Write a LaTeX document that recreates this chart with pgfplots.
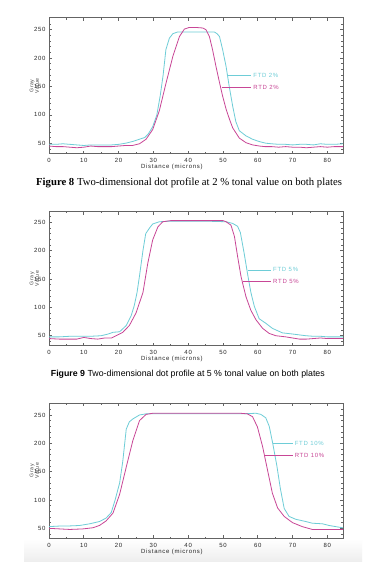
\documentclass[border=0pt]{standalone}
\usepackage{fontspec}
\setmainfont{Liberation Sans}
\newfontfamily\tickfont[LetterSpace=12]{Liberation Sans}
\newfontfamily\capserif{Liberation Serif}
\usepackage{pgfplots}
\pgfplotsset{compat=1.18}
\definecolor{ftd}{RGB}{110,205,215}
\definecolor{rtd}{RGB}{200,70,150}
\definecolor{axgray}{RGB}{100,100,100}
\tikzset{leg/.style={font=\fontsize{6}{7}\tickfont, anchor=west, inner sep=1pt}}
\pgfplotsset{
  dotstyle/.style={
    scale only axis, width=294pt,
    xmin=0, xmax=84.5,
    xtick={0,10,...,80}, ytick={50,100,...,250},
    minor xtick={5,15,...,85},
    minor ytick={40,60,70,80,90,110,120,130,140,160,170,180,190,210,220,230,240,260},
    tick align=inside, major tick length=3pt, minor tick length=1.6pt,
    axis line style={axgray, line width=1pt},
    every tick/.style={axgray, line width=0.6pt},
    tick label style={font=\fontsize{6}{7}\tickfont, text=black!85},
    /pgf/number format/assume math mode=true,
    xticklabel style={yshift=-1pt},
    xlabel={Distance (microns)},
    every axis x label/.style={at={(axis description cs:0.418,0)}, anchor=center, yshift=-13.3pt, font=\fontsize{6}{7}\tickfont, text=black!85},
    ylabel={Gray\\Value},
    every axis y label/.style={at={(axis description cs:-0.05,0.5)}, rotate=90, anchor=center, align=center, font=\fontsize{5.2}{5.4}\tickfont, text=black!75},
  }
}
\begin{document}
\begin{tikzpicture}
\path[fill=white, use as bounding box] (0,0) rectangle (366pt,581pt);
\shade[top color=white, bottom color=black!7] (24pt,19pt) rectangle (362pt,42pt);

% ---------- Figure 8 (2 %) ----------
\begin{axis}[dotstyle, at={(49pt,427pt)}, anchor=south west, height=136pt, ymin=31, ymax=270.6]
\addplot[ftd, line width=0.8pt] coordinates {
(0,48)(2,48)(4,49)(6,48)(8,47)(10,46)(12,47)(14,47)(16,47)(18,47)(20,48)(22,50)(24,53)(26,57)(27.5,60)(28.5,66)(29.8,79)(31,100)(32,135)(32.8,170)(33.6,215)(34.6,235)(35.6,243)(37,246)(40,246)(44,246)(47.5,246)(48.3,243)(49,238)(49.9,215)(50.9,185)(51.8,150)(52.8,115)(53.7,88)(54.7,72)(56.6,63)(58.5,57)(60.4,53)(62.3,50)(64,49)(66,48)(68,48)(70,47)(72,48)(74,48)(76,47)(78,49)(80,48)(82,48)(84.5,49)};
\addplot[rtd, line width=0.8pt] coordinates {
(0,45)(2,44)(4,44)(6,43)(8,42)(10,43)(12,45)(14,44)(16,44)(18,44)(20,45)(22,46)(24,46)(26,49)(27.9,57)(29.8,74)(31.7,107)(33.6,155)(35.6,203)(37.5,238)(38.9,251)(40.3,254)(42,254)(44.2,253)(45.1,250)(46.1,238)(47,215)(48,185)(49,157)(49.9,133)(50.9,110)(52,90)(52.8,77)(54.7,59)(56.6,51)(58.5,47)(60.5,45)(62,44)(64,44)(66,43)(68,44)(70,43)(72,43)(74,42)(76,43)(78,44)(80,43)(82,44)(84.5,44)};
\addplot[ftd, line width=0.8pt, forget plot] coordinates {(51.1,169)(58.2,169)};
\addplot[rtd, line width=0.8pt, forget plot] coordinates {(49.7,149)(58.2,149)};
\node[leg, text=ftd] at (axis cs:58.4,169) {FTD 2\%};
\node[leg, text=rtd] at (axis cs:58.4,149) {RTD 2\%};
\end{axis}
\node[anchor=base west, inner sep=0pt, font=\fontsize{10.7}{12}\capserif] at (36pt,395pt) {\textbf{Figure 8} Two-dimensional dot profile at 2 \% tonal value on both plates};

% ---------- Figure 9 (5 %) ----------
\begin{axis}[dotstyle, at={(49pt,235.3pt)}, anchor=south west, height=134pt, ymin=32.4, ymax=268.7]
\addplot[ftd, line width=0.8pt] coordinates {
(0,48)(3,48)(6,49)(9,49)(12,49)(15,50)(17,53)(18.4,56)(20.3,57)(22.2,68)(23.6,85)(24.5,103)(25.3,126)(26,155)(27,200)(27.8,230)(28.9,240)(29.8,247)(31.7,251)(35,252)(40,252)(45,252)(50.9,251)(52.8,248)(54.2,243)(55,232)(56.1,195)(57.1,158)(58,127)(59,102)(60.4,80)(62.3,72)(64.2,63)(67.1,55)(70,53)(73.8,50)(76,49)(78,49)(80,48)(82,48)(84.5,48)};
\addplot[rtd, line width=0.8pt] coordinates {
(0,45)(3,44)(6,44)(8,44)(10,47)(12,45)(14,44)(16,46)(18,46)(19.3,50)(21.2,56)(23.1,68)(25,90)(27,126)(28.4,178)(29.8,219)(31.3,242)(32.7,251)(35,253)(40,253)(45,253)(50,253)(50.9,251)(52.3,245)(53.3,225)(54.2,190)(55.2,154)(56.6,119)(58,95)(59.5,78)(61.4,63)(63.3,54)(65.2,50)(68,48)(70,46)(72,44)(74,44)(76,45)(78,46)(80,45)(82,45)(84.5,45)};
\addplot[ftd, line width=0.8pt, forget plot] coordinates {(57.1,166)(63.8,166)};
\addplot[rtd, line width=0.8pt, forget plot] coordinates {(55.9,145)(63.8,145)};
\node[leg, text=ftd] at (axis cs:64.1,166) {FTD 5\%};
\node[leg, text=rtd] at (axis cs:64.1,145) {RTD 5\%};
\end{axis}
\node[anchor=base west, inner sep=0pt, font=\fontsize{8.8}{10}\selectfont] at (50.7pt,204.3pt) {\textbf{Figure 9} Two-dimensional dot profile at 5 \% tonal value on both plates};

% ---------- (10 %) ----------
\begin{axis}[dotstyle, at={(49pt,42.7pt)}, anchor=south west, height=135pt, ymin=32.4, ymax=270.6]
\addplot[ftd, line width=0.8pt] coordinates {
(0,53)(3,54)(5,54)(8.8,55)(11.7,58)(14.5,62)(16.4,68)(17.9,78)(19,100)(20.3,130)(21.2,168)(22.2,225)(23.1,238)(24.1,243)(26,250)(27.9,252)(35,252)(45,252)(55,252)(59.5,253)(60.9,251)(62.3,245)(63.3,230)(64.3,200)(65.5,160)(66.5,120)(67.6,85)(69,71)(70.9,66)(73.8,62)(75.7,59)(78.6,58)(80.5,55)(83.4,52)(84.5,51)};
\addplot[rtd, line width=0.8pt] coordinates {
(0,50)(3,49)(6,48)(9.8,49)(12.6,51)(14.5,55)(16.4,63)(18.4,77)(20.3,110)(22.2,158)(24.1,205)(26,240)(27.9,251)(29.8,253)(35,253)(45,253)(55,253)(57,252)(58.5,247)(59.9,229)(61.4,194)(62.8,153)(64.2,112)(65.7,86)(67.6,71)(70,60)(72.8,53)(75.7,48)(80,48)(84.5,48)};
\addplot[ftd, line width=0.8pt, forget plot] coordinates {(64.4,200)(70,200)};
\addplot[rtd, line width=0.8pt, forget plot] coordinates {(61.9,179)(70,179)};
\node[leg, text=ftd] at (axis cs:70.3,200) {FTD 10\%};
\node[leg, text=rtd] at (axis cs:70.3,179) {RTD 10\%};
\end{axis}
\end{tikzpicture}
\end{document}
